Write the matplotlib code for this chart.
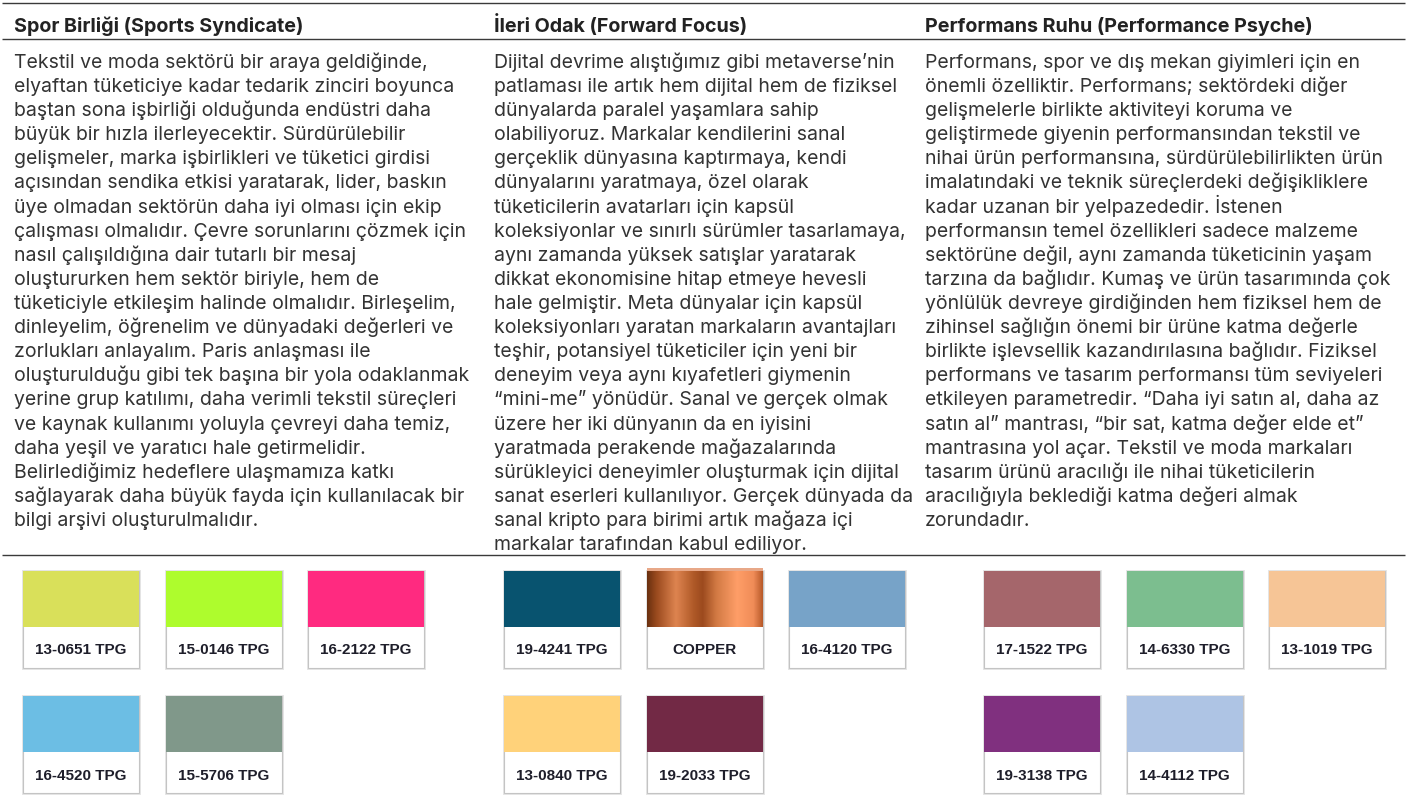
import numpy as np
import matplotlib.pyplot as plt
from matplotlib.patches import Rectangle

# column headers
headers = ["Spor Birliği (Sports Syndicate)",
           "İleri Odak (Forward Focus)",
           "Performans Ruhu (Performance Psyche)"]

# body text, line by line as in the original
col1_lines = [
    "Tekstil ve moda sektörü bir araya geldiğinde,",
    "elyaftan tüketiciye kadar tedarik zinciri boyunca",
    "baştan sona işbirliği olduğunda endüstri daha",
    "büyük bir hızla ilerleyecektir. Sürdürülebilir",
    "gelişmeler, marka işbirlikleri ve tüketici girdisi",
    "açısından sendika etkisi yaratarak, lider, baskın",
    "üye olmadan sektörün daha iyi olması için ekip",
    "çalışması olmalıdır. Çevre sorunlarını çözmek için",
    "nasıl çalışıldığına dair tutarlı bir mesaj",
    "oluştururken hem sektör biriyle, hem de",
    "tüketiciyle etkileşim halinde olmalıdır. Birleşelim,",
    "dinleyelim, öğrenelim ve dünyadaki değerleri ve",
    "zorlukları anlayalım. Paris anlaşması ile",
    "oluşturulduğu gibi tek başına bir yola odaklanmak",
    "yerine grup katılımı, daha verimli tekstil süreçleri",
    "ve kaynak kullanımı yoluyla çevreyi daha temiz,",
    "daha yeşil ve yaratıcı hale getirmelidir.",
    "Belirlediğimiz hedeflere ulaşmamıza katkı",
    "sağlayarak daha büyük fayda için kullanılacak bir",
    "bilgi arşivi oluşturulmalıdır.",
]
col2_lines = [
    "Dijital devrime alıştığımız gibi metaverse’nin",
    "patlaması ile artık hem dijital hem de fiziksel",
    "dünyalarda paralel yaşamlara sahip",
    "olabiliyoruz. Markalar kendilerini sanal",
    "gerçeklik dünyasına kaptırmaya, kendi",
    "dünyalarını yaratmaya, özel olarak",
    "tüketicilerin avatarları için kapsül",
    "koleksiyonlar ve sınırlı sürümler tasarlamaya,",
    "aynı zamanda yüksek satışlar yaratarak",
    "dikkat ekonomisine hitap etmeye hevesli",
    "hale gelmiştir. Meta dünyalar için kapsül",
    "koleksiyonları yaratan markaların avantajları",
    "teşhir, potansiyel tüketiciler için yeni bir",
    "deneyim veya aynı kıyafetleri giymenin",
    "“mini-me” yönüdür. Sanal ve gerçek olmak",
    "üzere her iki dünyanın da en iyisini",
    "yaratmada perakende mağazalarında",
    "sürükleyici deneyimler oluşturmak için dijital",
    "sanat eserleri kullanılıyor. Gerçek dünyada da",
    "sanal kripto para birimi artık mağaza içi",
    "markalar tarafından kabul ediliyor.",
]
col3_lines = [
    "Performans, spor ve dış mekan giyimleri için en",
    "önemli özelliktir. Performans; sektördeki diğer",
    "gelişmelerle birlikte aktiviteyi koruma ve",
    "geliştirmede giyenin performansından tekstil ve",
    "nihai ürün performansına, sürdürülebilirlikten ürün",
    "imalatındaki ve teknik süreçlerdeki değişikliklere",
    "kadar uzanan bir yelpazededir. İstenen",
    "performansın temel özellikleri sadece malzeme",
    "sektörüne değil, aynı zamanda tüketicinin yaşam",
    "tarzına da bağlıdır. Kumaş ve ürün tasarımında çok",
    "yönlülük devreye girdiğinden hem fiziksel hem de",
    "zihinsel sağlığın önemi bir ürüne katma değerle",
    "birlikte işlevsellik kazandırılasına bağlıdır. Fiziksel",
    "performans ve tasarım performansı tüm seviyeleri",
    "etkileyen parametredir. “Daha iyi satın al, daha az",
    "satın al” mantrası, “bir sat, katma değer elde et”",
    "mantrasına yol açar. Tekstil ve moda markaları",
    "tasarım ürünü aracılığı ile nihai tüketicilerin",
    "aracılığıyla beklediği katma değeri almak",
    "zorundadır.",
]

# colour swatches per column
col1_codes = ["13-0651 TPG", "15-0146 TPG", "16-2122 TPG", "16-4520 TPG", "15-5706 TPG"]
col1_colors = ["#d9e05a", "#aefc2d", "#ff2a80", "#6cbee4", "#80988a"]
col2_codes = ["19-4241 TPG", "COPPER", "16-4120 TPG", "13-0840 TPG", "19-2033 TPG"]
col2_colors = ["#08536f", "copper", "#77a3c8", "#ffd27a", "#722945"]
col3_codes = ["17-1522 TPG", "14-6330 TPG", "13-1019 TPG", "19-3138 TPG", "14-4112 TPG"]
col3_colors = ["#a5666b", "#7cbe8f", "#f6c596", "#80307f", "#aec4e4"]

W, H = 1408, 801
fig = plt.figure(figsize=(W / 100, H / 100), dpi=100)
ax = fig.add_axes([0, 0, 1, 1])
ax.set_xlim(0, W)
ax.set_ylim(H, 0)
ax.axis("off")

body_font = "Inter"
text_x = [14, 494, 925]
line_color = "#3a3a3a"

# rules
for y in [3, 39, 555]:
    ax.plot([2, 1405], [y, y], color=line_color, lw=1.0, solid_capstyle="butt")

for x, h in zip(text_x, headers):
    ax.text(x, 32, h, fontsize=14.2, fontweight="bold", family=body_font,
            color="#222222", va="baseline", ha="left")

for x, lines in zip(text_x, [col1_lines, col2_lines, col3_lines]):
    for i, ln in enumerate(lines):
        ax.text(x, 68 + i * 24.1, ln, fontsize=14, family=body_font,
                color="#333333", va="baseline", ha="left")

# copper gradient
copper_stops = [(0.0, "#6a3010"), (0.08, "#9a4a1e"), (0.25, "#de8450"), (0.4, "#b05a28"),
                (0.48, "#9c4a1e"), (0.6, "#d27a44"), (0.78, "#ff9e68"), (0.92, "#f08c58"),
                (1.0, "#b85a2a")]


def hex_rgb(c):
    c = c.lstrip("#")
    return np.array([int(c[k:k + 2], 16) / 255 for k in (0, 2, 4)])


def copper_img(n=200):
    xs = np.linspace(0, 1, n)
    pos = [p for p, _ in copper_stops]
    cols = np.array([hex_rgb(c) for _, c in copper_stops])
    img = np.stack([np.interp(xs, pos, cols[:, k]) for k in range(3)], axis=-1)
    return img[np.newaxis, :, :]


group_x = [23, 504, 984]
row_y = [571, 696]
step_x = 142.5
card_w, swatch_h, label_h = 116, 56, 41

groups = [(col1_codes, col1_colors), (col2_codes, col2_colors), (col3_codes, col3_colors)]
for gx, (codes, colors) in zip(group_x, groups):
    for i, (code, c) in enumerate(zip(codes, colors)):
        x0 = gx + (i % 3) * step_x
        y0 = row_y[i // 3]
        # soft shadow and card
        ax.add_patch(Rectangle((x0 - 1, y0 - 1), card_w + 3, swatch_h + label_h + 3,
                               facecolor="#e6e6e6", edgecolor="none", zorder=1))
        ax.add_patch(Rectangle((x0, y0), card_w, swatch_h + label_h,
                               facecolor="white", edgecolor="#c4c4c4", lw=0.8, zorder=2))
        if c == "copper":
            ax.imshow(copper_img(), extent=(x0, x0 + card_w, y0 + swatch_h, y0 - 2),
                      aspect="auto", zorder=3, interpolation="bilinear")
            ax.add_patch(Rectangle((x0, y0 - 3), card_w, 3, facecolor="#e8a888",
                                   edgecolor="none", zorder=4))
        else:
            ax.add_patch(Rectangle((x0, y0), card_w, swatch_h, facecolor=c,
                                   edgecolor="none", zorder=3))
        ax.text(x0 + card_w / 2, y0 + swatch_h + label_h / 2 + 3, code,
                fontsize=11, fontweight="bold", family="Liberation Sans",
                color="#1e1e2a", ha="center", va="center", zorder=5)

ax.set_xlim(0, W)
ax.set_ylim(H, 0)
fig.savefig("out.png", dpi=100)
